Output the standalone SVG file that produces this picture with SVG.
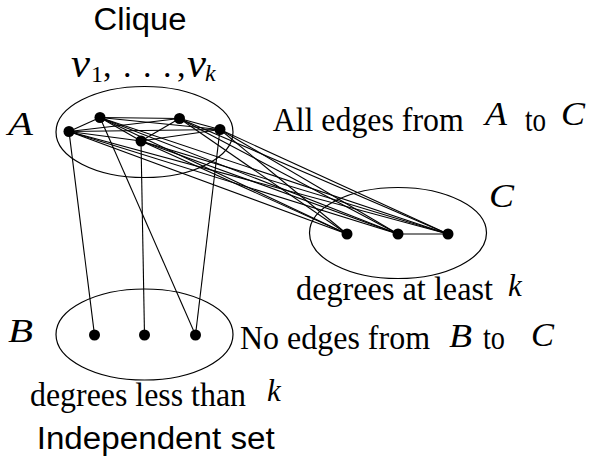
<svg xmlns="http://www.w3.org/2000/svg" width="594" height="458" viewBox="0 0 594 458">
<style>
.bg{fill:#fff}
.set{fill:none;stroke:#000;stroke-width:1.2}
.dot{fill:#000}
.edges line{stroke:#000;stroke-width:1.1}
.rm{font-family:"Liberation Serif",serif;font-size:34px;fill:#000}
.mi{font-family:"Liberation Serif",serif;font-style:italic;font-size:33px;fill:#000}
.sf{font-family:"Liberation Sans",Arial,sans-serif;font-size:31px;fill:#000}
.big{font-size:40px}
.sub{font-size:24px}
.kk{font-size:31px}
</style>
<rect class="bg" x="0" y="0" width="594" height="458"/>
<g id="sets">
<ellipse id="setA" class="set" cx="144.5" cy="132" rx="88.5" ry="45.5"/>
<ellipse id="setB" class="set" cx="144.5" cy="334.5" rx="88.5" ry="45.5"/>
<ellipse id="setC" class="set" cx="398" cy="233" rx="88.5" ry="45.5"/>
</g>
<g id="connectors" class="edges">
<line x1="69" y1="131.5" x2="100" y2="117.5"/>
<line x1="69" y1="131.5" x2="179.5" y2="118.5"/>
<line x1="69" y1="131.5" x2="220" y2="129.5"/>
<line x1="69" y1="131.5" x2="141" y2="141"/>
<line x1="100" y1="117.5" x2="179.5" y2="118.5"/>
<line x1="100" y1="117.5" x2="220" y2="129.5"/>
<line x1="100" y1="117.5" x2="141" y2="141"/>
<line x1="179.5" y1="118.5" x2="220" y2="129.5"/>
<line x1="179.5" y1="118.5" x2="141" y2="141"/>
<line x1="220" y1="129.5" x2="141" y2="141"/>
<line x1="69" y1="131.5" x2="347" y2="234"/>
<line x1="69" y1="131.5" x2="398" y2="234"/>
<line x1="69" y1="131.5" x2="448" y2="234"/>
<line x1="100" y1="117.5" x2="347" y2="234"/>
<line x1="100" y1="117.5" x2="398" y2="234"/>
<line x1="100" y1="117.5" x2="448" y2="234"/>
<line x1="179.5" y1="118.5" x2="347" y2="234"/>
<line x1="179.5" y1="118.5" x2="398" y2="234"/>
<line x1="179.5" y1="118.5" x2="448" y2="234"/>
<line x1="220" y1="129.5" x2="347" y2="234"/>
<line x1="220" y1="129.5" x2="398" y2="234"/>
<line x1="220" y1="129.5" x2="448" y2="234"/>
<line x1="141" y1="141" x2="347" y2="234"/>
<line x1="141" y1="141" x2="398" y2="234"/>
<line x1="141" y1="141" x2="448" y2="234"/>
<line x1="398" y1="234" x2="448" y2="234"/>
<line x1="69" y1="131.5" x2="94.5" y2="335"/>
<line x1="141" y1="141" x2="144.5" y2="335"/>
<line x1="100" y1="117.5" x2="195.5" y2="335"/>
<line x1="220" y1="129.5" x2="195.5" y2="335"/>
</g>
<g id="nodeA1"><circle class="dot" cx="69" cy="131.5" r="5.5"/></g>
<g id="nodeA2"><circle class="dot" cx="100" cy="117.5" r="5.5"/></g>
<g id="nodeA3"><circle class="dot" cx="179.5" cy="118.5" r="5.5"/></g>
<g id="nodeA4"><circle class="dot" cx="220" cy="129.5" r="5.5"/></g>
<g id="nodeA5"><circle class="dot" cx="141" cy="141" r="5.5"/></g>
<g id="nodeC1"><circle class="dot" cx="347" cy="234" r="5.5"/></g>
<g id="nodeC2"><circle class="dot" cx="398" cy="234" r="5.5"/></g>
<g id="nodeC3"><circle class="dot" cx="448" cy="234" r="5.5"/></g>
<g id="nodeB1"><circle class="dot" cx="94.5" cy="335" r="5.5"/></g>
<g id="nodeB2"><circle class="dot" cx="144.5" cy="335" r="5.5"/></g>
<g id="nodeB3"><circle class="dot" cx="195.5" cy="335" r="5.5"/></g>
<g id="labels">
<text class="sf" x="93.5" y="30" textLength="93" lengthAdjust="spacingAndGlyphs">Clique</text>
<text class="mi big" x="71" y="77" textLength="19" lengthAdjust="spacingAndGlyphs">v</text>
<text class="rm sub" x="91" y="82">1</text>
<text class="rm" x="103" y="77">,</text>
<text class="rm" x="123" y="77">.</text>
<text class="rm" x="143" y="77">.</text>
<text class="rm" x="163" y="77">.</text>
<text class="rm" x="177" y="77">,</text>
<text class="mi big" x="187" y="77" textLength="19" lengthAdjust="spacingAndGlyphs">v</text>
<text class="mi sub" x="205" y="81">k</text>
<text class="mi" x="8" y="135" textLength="25" lengthAdjust="spacingAndGlyphs">A</text>
<text class="mi" x="8" y="341.5" textLength="25" lengthAdjust="spacingAndGlyphs">B</text>
<text class="mi" x="489" y="207" textLength="25" lengthAdjust="spacingAndGlyphs">C</text>
<text class="rm" x="272.7" y="130.7" textLength="191" lengthAdjust="spacingAndGlyphs">All edges from</text>
<text class="mi" x="485" y="125" textLength="22" lengthAdjust="spacingAndGlyphs">A</text>
<text class="rm" x="525" y="130.7" textLength="21" lengthAdjust="spacingAndGlyphs">to</text>
<text class="mi" x="561" y="125" textLength="24" lengthAdjust="spacingAndGlyphs">C</text>
<text class="rm" x="296" y="300" textLength="197" lengthAdjust="spacingAndGlyphs">degrees at least</text>
<text class="mi kk" x="508" y="296">k</text>
<text class="rm" x="240" y="349.3" textLength="190" lengthAdjust="spacingAndGlyphs">No edges from</text>
<text class="mi" x="449" y="346.5" textLength="23" lengthAdjust="spacingAndGlyphs">B</text>
<text class="rm" x="483" y="349.3" textLength="22" lengthAdjust="spacingAndGlyphs">to</text>
<text class="mi" x="531" y="346" textLength="23" lengthAdjust="spacingAndGlyphs">C</text>
<text class="rm" x="30" y="406" textLength="216" lengthAdjust="spacingAndGlyphs">degrees less than</text>
<text class="mi kk" x="267" y="401">k</text>
<text class="sf" x="36.7" y="448.5" textLength="238" lengthAdjust="spacingAndGlyphs">Independent set</text>
</g>
</svg>
